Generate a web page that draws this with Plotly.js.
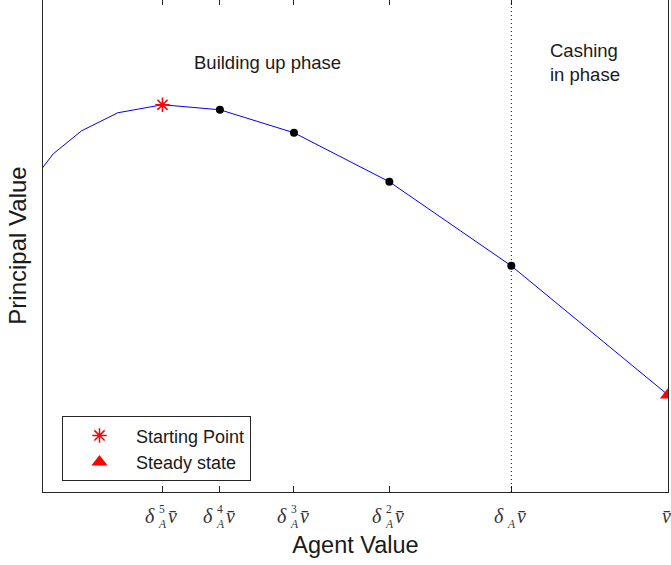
<!DOCTYPE html>
<html>
<head>
<meta charset="utf-8">
<script src="https://cdn.plot.ly/plotly-3.0.1.min.js"></script>
<style>
  html, body { margin: 0; padding: 0; overflow: hidden; background: #fff; }
  #plot { position: absolute; left: 0; top: -10px; width: 671px; height: 575px; }
</style>
</head>
<body>
<div id="plot"></div>
<script>
// Agent value (x) as fractions of v-bar, principal value (y) in arbitrary units
const agentValue     = [0.107, 0.133, 0.173, 0.224, 0.287, 0.368, 0.4725, 0.607, 0.779, 1.0];
const principalValue = [3.14, 3.38, 3.61, 3.79, 3.87, 3.82, 3.59, 3.10, 2.26, 0.97];

const startX = [0.287], startY = [3.87];
const stepX  = [0.368, 0.4725, 0.607, 0.779];
const stepY  = [3.82, 3.59, 3.10, 2.26];
const steadyX = [1.0], steadyY = [0.97];

const tickVals   = [0.287, 0.368, 0.4725, 0.607, 0.779, 1.0];
const tickPowers = ['5', '4', '3', '2', '1', '0'];
const phaseBoundary = 0.779;

const textFont = 'Liberation Sans, Arial, sans-serif';
const mathFont = 'Liberation Serif, Times New Roman, serif';
const ink = '#1a1a1a';

const traces = [
  { x: agentValue, y: principalValue, mode: 'lines', type: 'scatter',
    line: { color: '#0000ff', width: 1 }, showlegend: false, hoverinfo: 'skip' },
  { x: stepX, y: stepY, mode: 'markers', type: 'scatter',
    marker: { color: '#000', size: 8 }, showlegend: false },
  { x: startX, y: startY, mode: 'markers', type: 'scatter', name: 'Starting Point',
    marker: { symbol: 'asterisk-open', size: 12, color: '#ff0000', line: { color: '#ff0000', width: 1.5 } } },
  { x: steadyX, y: steadyY, mode: 'markers', type: 'scatter', name: 'Steady state',
    marker: { symbol: 'triangle-up', size: 14, color: '#ff0000' } }
];

// stacked math tick labels built from tick arrays
const annotations = [];
tickVals.forEach((v, i) => {
  const p = tickPowers[i];
  const base = { x: v, xref: 'x', y: 0, yref: 'paper', showarrow: false, yanchor: 'middle',
                 borderpad: 0, font: { family: mathFont, size: 20, color: '#333' } };
  if (p === '0') {
    annotations.push(Object.assign({}, base, { text: '<i>v̄</i>', xanchor: 'center', xshift: -2, yshift: -24 }));
    return;
  }
  annotations.push(Object.assign({}, base, { text: '<i>δ</i>', xanchor: 'right', xshift: -6, yshift: -24 }));
  const scriptText = (p !== '1' ? p : ' ') + '<br><i>A</i>';
  annotations.push(Object.assign({}, base, { text: scriptText, xanchor: 'left', xshift: -5, yshift: -24,
    align: 'left', font: { family: mathFont, size: 11.5, color: '#333' } }));
  annotations.push(Object.assign({}, base, { text: '<i>v̄</i>', xanchor: 'left', xshift: 5, yshift: -24 }));
});

annotations.push({ x: 0.4348, xref: 'x', y: 0.872, yref: 'paper', text: 'Building up phase',
  showarrow: false, xanchor: 'center', yanchor: 'middle', font: { family: textFont, size: 18.5, color: ink } });
annotations.push({ x: 0.8312, xref: 'x', y: 0.872, yref: 'paper', text: 'Cashing<br>in phase',
  showarrow: false, xanchor: 'left', yanchor: 'middle', align: 'left', font: { family: textFont, size: 18.5, color: ink } });

const layout = {
  width: 671, height: 575,
  margin: { l: 43, r: 3, t: 9, b: 73 },
  paper_bgcolor: '#fff', plot_bgcolor: '#fff',
  font: { family: textFont, color: ink },
  showlegend: true,
  legend: { x: 0.0304, y: 0.1536, xanchor: 'left', yanchor: 'top',
            bgcolor: '#fff', bordercolor: '#262626', borderwidth: 1,
            font: { family: textFont, size: 18, color: ink }, itemwidth: 63, tracegroupgap: 0 },
  xaxis: {
    range: [0.1185, 1.0], tickvals: tickVals, showticklabels: false,
    ticks: 'inside', ticklen: 6, tickcolor: '#262626', tickwidth: 1,
    showline: true, linecolor: '#262626', linewidth: 1, mirror: 'ticks',
    showgrid: false, zeroline: false,
    title: { text: 'Agent Value', font: { family: textFont, size: 23.5, color: ink }, standoff: 44 }
  },
  yaxis: {
    range: [0, 4.927], showticklabels: false, ticks: '',
    showline: true, linecolor: '#262626', linewidth: 1, mirror: true,
    showgrid: false, zeroline: false,
    title: { text: 'Principal Value', font: { family: textFont, size: 24, color: ink }, standoff: 8 }
  },
  shapes: [{ type: 'line', xref: 'x', yref: 'paper', x0: phaseBoundary, x1: phaseBoundary, y0: 0, y1: 1,
             line: { color: '#000', width: 1, dash: '1px,3px' } }],
  annotations: annotations
};

Plotly.newPlot('plot', traces, layout, { displayModeBar: false, staticPlot: true });
</script>
</body>
</html>
